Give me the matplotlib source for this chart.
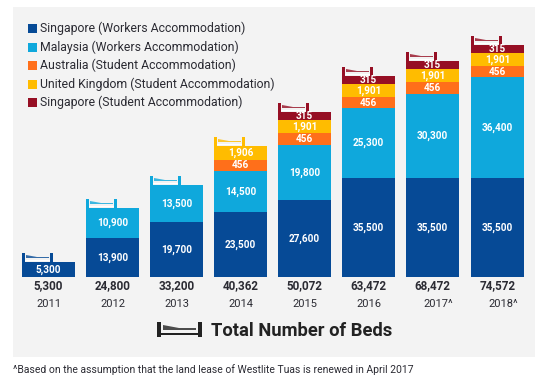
import matplotlib
matplotlib.use('Agg')
import matplotlib.pyplot as plt
from matplotlib.patches import Rectangle, Polygon

years = ['2011', '2012', '2013', '2014', '2015', '2016', '2017^', '2018^']
totals = ['5,300', '24,800', '33,200', '40,362', '50,072', '63,472', '68,472', '74,572']

sg_workers = [5300, 13900, 19700, 23500, 27600, 35500, 35500, 35500]
my_workers = [0, 10900, 13500, 14500, 19800, 25300, 30300, 36400]

# small segments are not to scale in the original, so heights and labels differ
au_heights = [0, 0, 0, 4300, 4300, 4000, 4300, 4000]
uk_heights = [0, 0, 0, 4700, 4700, 4700, 4700, 4700]
sg_heights = [0, 0, 0, 0, 2900, 2900, 2900, 2900]
au_labels = ['', '', '', '456', '456', '456', '456', '456']
uk_labels = ['', '', '', '1,906', '1,901', '1,901', '1,901', '1,901']
sg_labels = ['', '', '', '', '315', '315', '315', '315']

legend_names = ['Singapore (Workers Accommodation)', 'Malaysia (Workers Accommodation)',
                'Australia (Student Accommodation)', 'United Kingdom (Student Accommodation)',
                'Singapore (Student Accommodation)']
colors = ['#064a96', '#0fa8dc', '#ff6f1a', '#ffbc00', '#960f24']
bar_left = [22, 86, 150, 214, 278, 342, 406, 471]
BAR_W = 53
W, H = 545, 388
SCALE = 360.0   # value units per pixel
BASE = 277
BG = '#f3f3f3'
DARK = '#2b2b33'

plt.rcParams['font.family'] = ['Roboto', 'DejaVu Sans']

fig = plt.figure(figsize=(W / 100, H / 100), dpi=100)
ax = fig.add_axes([0, 0, 1, 1])
ax.set_xlim(0, W)
ax.set_ylim(-(H - BASE) * SCALE, BASE * SCALE)
ax.axis('off')


def py(p):
    # pixel row in the picture to y value
    return (BASE - p) * SCALE


ax.add_patch(Rectangle((13, py(357)), 522, py(7) - py(357), fc=BG, ec='none', zorder=0))


def bed(x, top, w, h, col, line_col, line_y, line_h):
    # headboard, footboard, mattress line and pillow/blanket wedge
    post = w * 0.095
    ax.add_patch(Rectangle((x, top), post, h * SCALE, fc=col, ec='none', zorder=3))
    ax.add_patch(Rectangle((x + w - post, top), post, h * SCALE, fc=col, ec='none', zorder=3))
    ax.add_patch(Rectangle((x + post, top + line_y * SCALE), w - 2 * post, line_h * SCALE,
                           fc=line_col, ec='none', zorder=3))
    ax.add_patch(Polygon([(x + post * 1.4, top + h * 0.8 * SCALE), (x + post * 1.4, top + h * 0.45 * SCALE),
                          (x + w * 0.86, top + h * 0.45 * SCALE), (x + w * 0.86, top + h * 0.58 * SCALE),
                          (x + w * 0.48, top + h * 0.58 * SCALE)],
                         fc=col, ec='none', alpha=0.8, zorder=3))


series = [sg_workers, my_workers, au_heights, uk_heights, sg_heights]
seg_labels = [[f'{v:,}' for v in sg_workers], [f'{v:,}' if v else '' for v in my_workers],
              au_labels, uk_labels, sg_labels]
bottoms = [0] * len(years)
top_color = [colors[0]] * len(years)
for vals, labs, col in zip(series, seg_labels, colors):
    ax.bar(bar_left, vals, width=BAR_W, bottom=bottoms, align='edge', color=col, zorder=2)
    for i, v in enumerate(vals):
        if v:
            ax.text(bar_left[i] + BAR_W / 2, bottoms[i] + v / 2, labs[i], color='white', fontsize=7.2,
                    fontweight='bold', ha='center', va='center', zorder=4)
            top_color[i] = col
    bottoms = [b + v for b, v in zip(bottoms, vals)]

for i in range(len(years)):
    bed(bar_left[i], bottoms[i], 31, 9, top_color[i], 'white', 1, 1)
    cx = bar_left[i] + BAR_W / 2
    ax.text(cx, py(286), totals[i], color=DARK, fontsize=8.4, fontweight='bold', ha='center', va='center')
    ax.text(cx + (6 if '^' in years[i] else 0), py(304), years[i], color=DARK, fontsize=8,
            ha='center', va='center')

# legend
leg_y = [28, 47, 65, 84, 102]
for name, col, y in zip(legend_names, colors, leg_y):
    ax.add_patch(Rectangle((28, py(y + 4.5)), 9, 9 * SCALE, fc=col, ec='none', zorder=3))
    ax.text(40, py(y), name, color=DARK, fontsize=8.8, ha='left', va='center')

# total beds caption
bed(157, py(337), 45, 15, '#222222', '#222222', 2, 2)
ax.text(211, py(331), 'Total Number of Beds', color='#222222', fontsize=13.2, fontweight='bold',
        ha='left', va='center')

ax.text(13, py(370), '^Based on the assumption that the land lease of Westlite Tuas is renewed in April 2017',
        color=DARK, fontsize=7.5, ha='left', va='center')

fig.savefig('out.png', dpi=100, facecolor='white')
